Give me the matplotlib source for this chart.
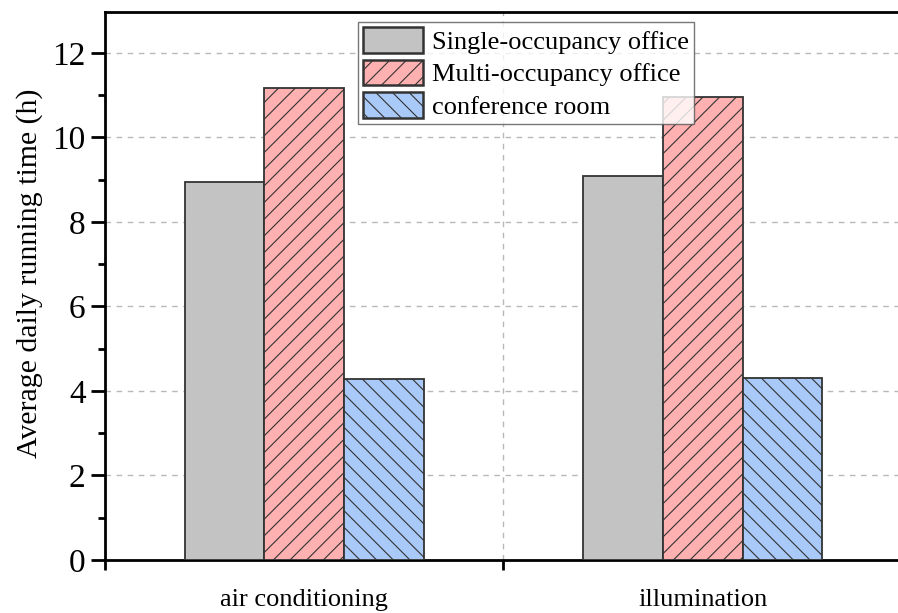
import numpy as np
import matplotlib.pyplot as plt

# running time data (h)
categories = ["air conditioning", "illumination"]
room_types = ["Single-occupancy office", "Multi-occupancy office", "conference room"]
single_office = [8.95, 9.08]
multi_office = [11.16, 10.95]
conference = [4.28, 4.30]

colors = ["#c3c3c3", "#ffb0b0", "#a9c9f9"]
hatches = ["", "//", "\\\\"]

plt.rcParams["font.family"] = ["Liberation Serif", "DejaVu Serif"]
plt.rcParams["hatch.linewidth"] = 0.8
plt.rcParams["hatch.color"] = "#3a3a3a"

fig = plt.figure(figsize=(8.98, 6.13), dpi=100)
ax = fig.add_axes([105 / 898, 53 / 613, 797 / 898, 548 / 613])

x = np.arange(1, len(categories) + 1)
width = 0.2
series = [single_office, multi_office, conference]
for i, vals in enumerate(series):
    ax.bar(x + (i - 1) * width, vals, width, color=colors[i], hatch=hatches[i],
           edgecolor="#333333", linewidth=1.3, label=room_types[i], zorder=3)

ax.set_xlim(0.5, 2.5)
ax.set_ylim(0, 12.97)

# category labels sit on minor ticks, major ticks mark the group borders
ax.set_xticks([0.5, 1.5, 2.5])
ax.set_xticklabels([])
ax.set_xticks(x, minor=True)
ax.set_xticklabels(categories, minor=True, fontsize=19)
ax.tick_params(axis="x", which="minor", length=0, pad=21)
ax.tick_params(axis="x", which="major", length=7, width=2, direction="out")

ax.set_yticks(np.arange(0, 13, 2))
ax.set_yticks(np.arange(1, 13, 2), minor=True)
ax.tick_params(axis="y", which="major", length=10, width=2, labelsize=24, pad=4)
ax.tick_params(axis="y", which="minor", length=5, width=2)

ax.set_ylabel("Average daily running time (h)", fontsize=21.5)
ax.yaxis.set_label_coords(-0.078, 0.523)

ax.grid(True, which="major", linestyle=(0, (4, 4)), color="#b8b8b8", linewidth=1.0, zorder=0)

for s in ["left", "bottom", "top", "right"]:
    ax.spines[s].set_linewidth(2)

leg = ax.legend(loc="upper left", bbox_to_anchor=(253 / 797, 1 - 10 / 548), fontsize=19,
                frameon=True, fancybox=False, edgecolor="#555555", handlelength=2.25,
                handleheight=1.1, handletextpad=0.35, borderpad=0.2, labelspacing=0.22,
                borderaxespad=0)
leg.get_frame().set_linewidth(1.0)
for h in leg.legend_handles:
    h.set_linewidth(1.8)

fig.savefig("out.png", dpi=100)
